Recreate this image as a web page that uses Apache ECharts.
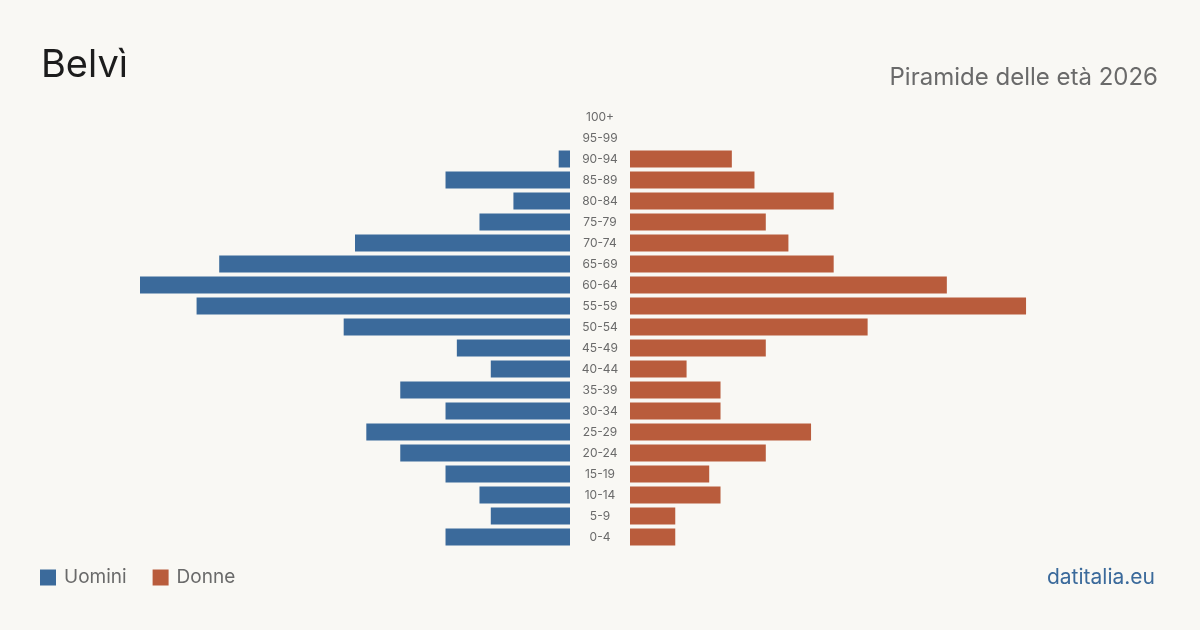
<!DOCTYPE html>
<html>
<head>
<meta charset="utf-8">
<style>
  html, body { margin: 0; padding: 0; background: #f9f8f4; }
  #chart { width: 1200px; height: 630px; }
</style>
<script src="https://cdn.jsdelivr.net/npm/echarts@6/dist/echarts.min.js"></script>
</head>
<body>
<div id="chart"></div>
<script>
const ageGroups = ['0-4', '5-9', '10-14', '15-19', '20-24', '25-29', '30-34', '35-39', '40-44', '45-49',
  '50-54', '55-59', '60-64', '65-69', '70-74', '75-79', '80-84', '85-89', '90-94', '95-99', '100+'];
const men = [11, 7, 8, 11, 15, 18, 11, 15, 7, 10, 20, 33, 38, 31, 19, 8, 5, 11, 1, 0, 0];
const women = [4, 4, 8, 7, 12, 16, 8, 8, 5, 12, 21, 35, 28, 18, 14, 12, 18, 11, 9, 0, 0];

const maxVal = Math.max(...men, ...women);
const font = 'Inter, "Noto Sans", sans-serif';
const blue = '#3b6a9b';
const red = '#b95c3c';

const chart = echarts.init(document.getElementById('chart'));

chart.setOption({
  backgroundColor: '#f9f8f4',
  animation: false,
  textStyle: { fontFamily: font },
  title: [
    {
      text: 'Belvì',
      left: 36, top: 42,
      textStyle: { fontSize: 38, fontWeight: 400, color: '#1c1c1c', fontFamily: font }
    },
    {
      text: 'Piramide delle età 2026',
      right: 37, top: 61,
      textStyle: { fontSize: 24, fontWeight: 400, color: '#6a6a6a', fontFamily: font }
    },
    {
      text: 'datitalia.eu',
      right: 40, top: 562,
      textStyle: { fontSize: 21, fontWeight: 400, color: '#3b6a9b', fontFamily: font }
    }
  ],
  legend: {
    left: 40, top: 568, padding: 0,
    icon: 'rect',
    itemWidth: 16, itemHeight: 16,
    itemGap: 26,
    textStyle: { fontSize: 19, color: '#6a6a6a', fontFamily: font, padding: [0, 0, 0, 3] },
    data: ['Uomini', 'Donne']
  },
  grid: [
    { left: 140, width: 430, top: 106.5, height: 441 },
    { left: 630, width: 430, top: 106.5, height: 441 }
  ],
  xAxis: [
    { gridIndex: 0, type: 'value', inverse: true, min: 0, max: maxVal, show: false },
    { gridIndex: 1, type: 'value', min: 0, max: maxVal, show: false }
  ],
  yAxis: [
    {
      gridIndex: 0, type: 'category', data: ageGroups,
      axisLine: { show: false }, axisTick: { show: false }, axisLabel: { show: false }
    },
    {
      gridIndex: 1, type: 'category', data: ageGroups,
      axisLine: { show: false }, axisTick: { show: false },
      axisLabel: { align: 'center', margin: 30, fontSize: 12, color: '#6a6a6a', fontFamily: font }
    }
  ],
  series: [
    {
      name: 'Uomini', type: 'bar', xAxisIndex: 0, yAxisIndex: 0,
      data: men, barWidth: 17, itemStyle: { color: blue }
    },
    {
      name: 'Donne', type: 'bar', xAxisIndex: 1, yAxisIndex: 1,
      data: women, barWidth: 17, itemStyle: { color: red }
    }
  ]
});
</script>
</body>
</html>
